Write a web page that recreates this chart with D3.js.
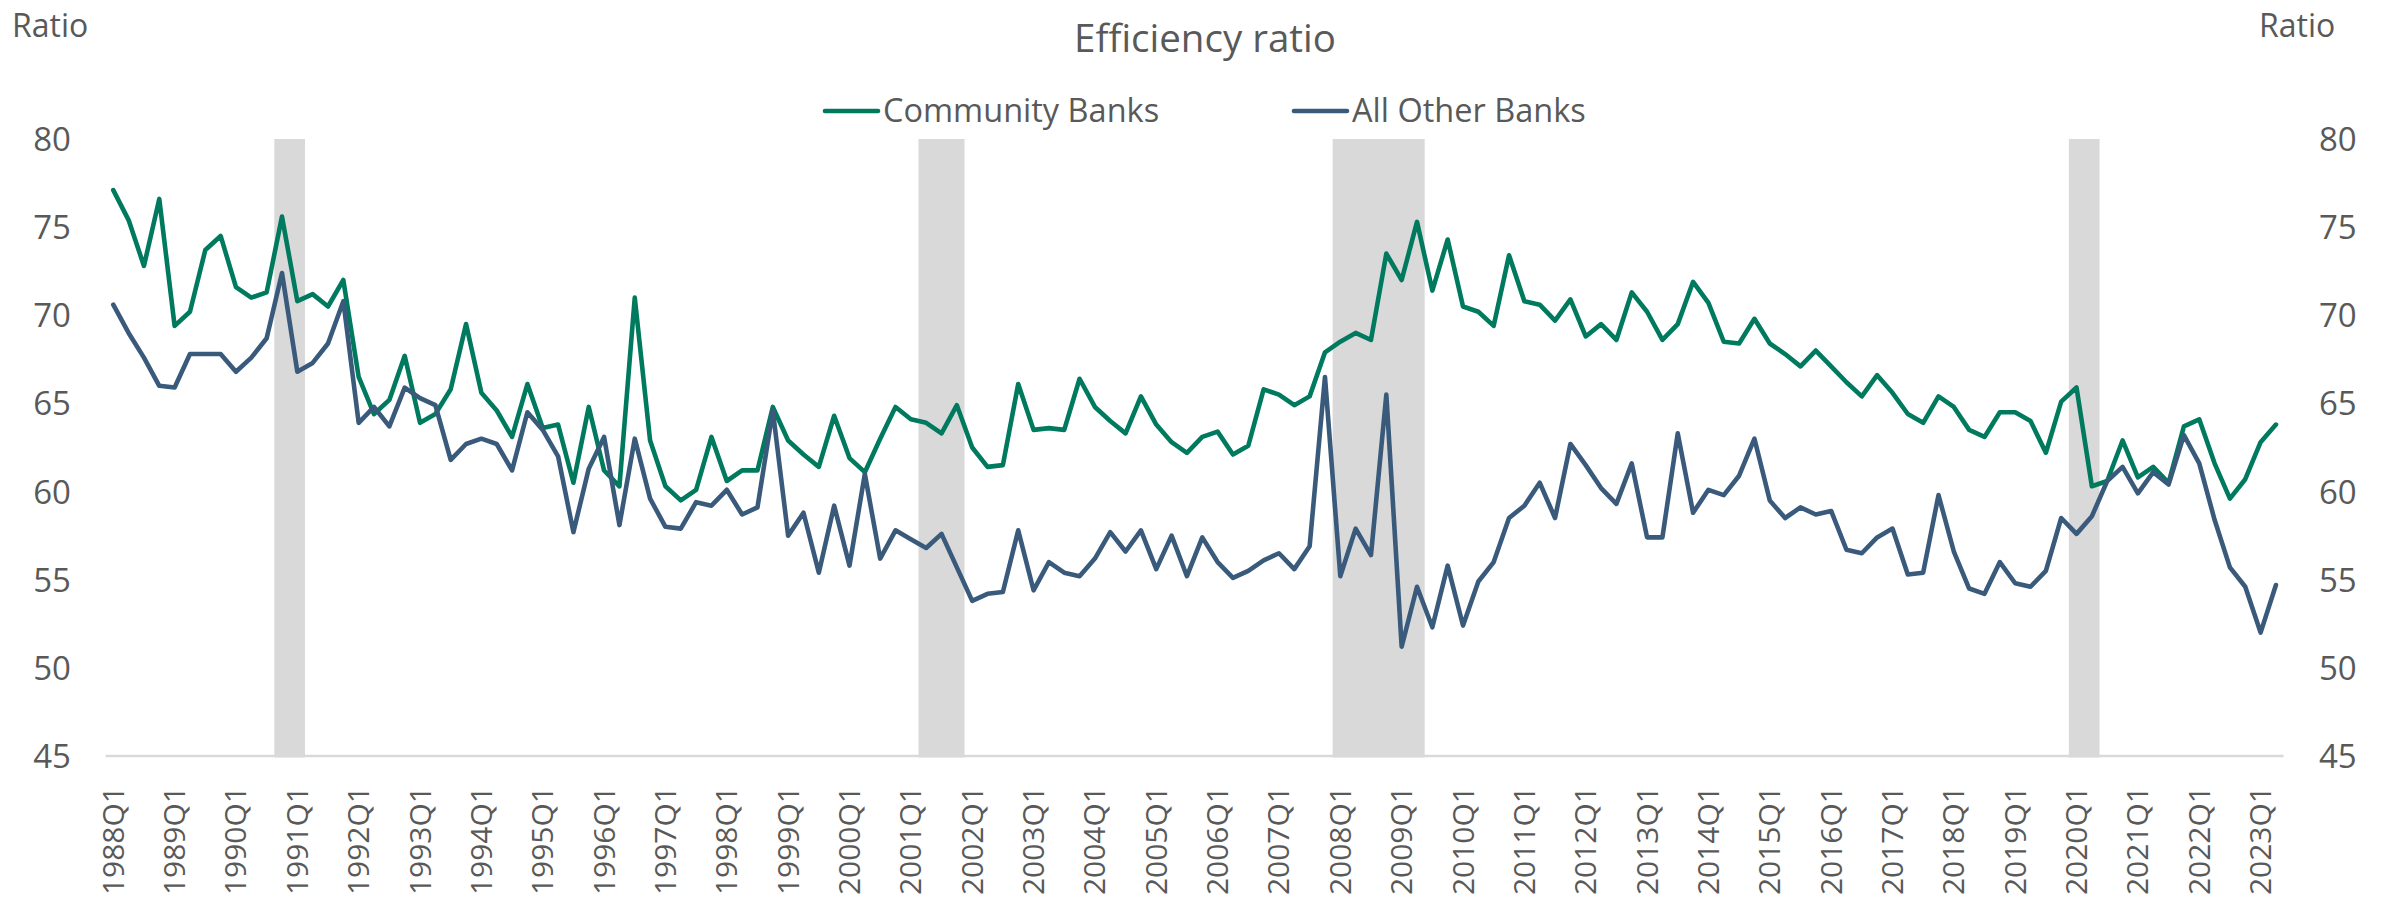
<!DOCTYPE html>
<html>
<head>
<meta charset="utf-8">
<script src="https://cdn.jsdelivr.net/npm/d3@7/dist/d3.min.js"></script>
<style>
  html, body { margin: 0; padding: 0; background: #ffffff; }
  svg { display: block; }
  text { font-family: "Open Sans", "Noto Sans", sans-serif; fill: #595959; }
</style>
</head>
<body>
<svg id="chart" width="2382" height="902"></svg>
<script>
// Quarterly periods, 1988Q1 through 2023Q2
const firstYear = 1988;
const periodCount = 142;
const quarters = Array.from({ length: periodCount }, (_, i) =>
  `${firstYear + Math.floor(i / 4)}Q${(i % 4) + 1}`);

// Efficiency ratio, community banks
const communityBanks = [
  77.1, 75.4, 72.8, 76.6, 69.4, 70.2, 73.7, 74.5, 71.6, 71.0, 71.3, 75.6,
  70.8, 71.2, 70.5, 72.0, 66.5, 64.4, 65.2, 67.7, 63.9, 64.4, 65.8, 69.5,
  65.6, 64.6, 63.1, 66.1, 63.6, 63.8, 60.5, 64.8, 61.2, 60.3, 71.0, 62.9,
  60.3, 59.5, 60.1, 63.1, 60.6, 61.2, 61.2, 64.8, 62.9, 62.1, 61.4, 64.3,
  61.9, 61.1, 63.0, 64.8, 64.1, 63.9, 63.3, 64.9, 62.5, 61.4, 61.5, 66.1,
  63.5, 63.6, 63.5, 66.4, 64.8, 64.0, 63.3, 65.4, 63.8, 62.8, 62.2, 63.1,
  63.4, 62.1, 62.6, 65.8, 65.5, 64.9, 65.4, 67.9, 68.5, 69.0, 68.6, 73.5,
  72.0, 75.3, 71.4, 74.3, 70.5, 70.2, 69.4, 73.4, 70.8, 70.6, 69.7, 70.9,
  68.8, 69.5, 68.6, 71.3, 70.2, 68.6, 69.5, 71.9, 70.7, 68.5, 68.4, 69.8,
  68.4, 67.8, 67.1, 68.0, 67.1, 66.2, 65.4, 66.6, 65.6, 64.4, 63.9, 65.4,
  64.8, 63.5, 63.1, 64.5, 64.5, 64.0, 62.2, 65.1, 65.9, 60.3, 60.6, 62.9,
  60.8, 61.4, 60.5, 63.7, 64.1, 61.6, 59.6, 60.7, 62.8, 63.8
];

// Efficiency ratio, all other banks
const allOtherBanks = [
  70.6, 69.0, 67.6, 66.0, 65.9, 67.8, 67.8, 67.8, 66.8, 67.6, 68.7, 72.4,
  66.8, 67.3, 68.4, 70.8, 63.9, 64.8, 63.7, 65.9, 65.3, 64.9, 61.8, 62.7,
  63.0, 62.7, 61.2, 64.5, 63.5, 62.0, 57.7, 61.3, 63.1, 58.1, 63.0, 59.6,
  58.0, 57.9, 59.4, 59.2, 60.1, 58.7, 59.1, 64.6, 57.5, 58.8, 55.4, 59.2,
  55.8, 61.0, 56.2, 57.8, 57.3, 56.8, 57.6, 55.7, 53.8, 54.2, 54.3, 57.8,
  54.4, 56.0, 55.4, 55.2, 56.2, 57.7, 56.6, 57.8, 55.6, 57.5, 55.2, 57.4,
  56.0, 55.1, 55.5, 56.1, 56.5, 55.6, 56.9, 66.5, 55.2, 57.9, 56.4, 65.5,
  51.2, 54.6, 52.3, 55.8, 52.4, 54.9, 56.0, 58.5, 59.2, 60.5, 58.5, 62.7,
  61.5, 60.2, 59.3, 61.6, 57.4, 57.4, 63.3, 58.8, 60.1, 59.8, 60.9, 63.0,
  59.5, 58.5, 59.1, 58.7, 58.9, 56.7, 56.5, 57.4, 57.9, 55.3, 55.4, 59.8,
  56.6, 54.5, 54.2, 56.0, 54.8, 54.6, 55.5, 58.5, 57.6, 58.6, 60.6, 61.4,
  59.9, 61.1, 60.4, 63.2, 61.6, 58.4, 55.7, 54.6, 52.0, 54.7
];

// Recession periods (first and last quarter shaded)
const recessionStarts = ["1990Q4", "2001Q2", "2008Q1", "2020Q1"];
const recessionEnds   = ["1991Q1", "2001Q4", "2009Q2", "2020Q2"];

// Axis ticks
const yTicks = [45, 50, 55, 60, 65, 70, 75, 80];
const xTickLabels = quarters.filter(q => q.endsWith("Q1"));

const seriesNames = ["Community Banks", "All Other Banks"];
const seriesColors = ["#007A5E", "#3A5A7C"];

const svg = d3.select("#chart");

const plot = { left: 105.6, right: 2283.6, top: 139, bottom: 756 };

const x = d3.scaleBand()
  .domain(quarters)
  .range([plot.left, plot.right])
  .paddingInner(0)
  .paddingOuter(0);
const bw = x.bandwidth();
const xc = q => x(q) + bw / 2;

const y = d3.scaleLinear()
  .domain([45, 80])
  .range([plot.bottom, plot.top]);

// Baseline
svg.append("line")
  .attr("x1", plot.left).attr("x2", plot.right)
  .attr("y1", y(45)).attr("y2", y(45))
  .attr("stroke", "#d9d9d9")
  .attr("stroke-width", 2.5);

// Recession shading
const recessions = recessionStarts.map((s, i) => ({ start: s, end: recessionEnds[i] }));
svg.append("g").selectAll("rect")
  .data(recessions)
  .join("rect")
  .attr("x", d => x(d.start))
  .attr("width", d => x(d.end) + bw - x(d.start))
  .attr("y", y(80))
  .attr("height", y(45) - y(80) + 1.5)
  .attr("fill", "#d9d9d9");

// Left and right value axes
const leftAxis = d3.axisLeft(y).tickValues(yTicks).tickSize(0).tickPadding(0);
const rightAxis = d3.axisRight(y).tickValues(yTicks).tickSize(0).tickPadding(0);

const gl = svg.append("g").attr("transform", "translate(71,0)").call(leftAxis);
const gr = svg.append("g").attr("transform", "translate(2319,0)").call(rightAxis);
[gl, gr].forEach(g => {
  g.select(".domain").remove();
  g.selectAll("text")
    .style("font-family", '"Open Sans", sans-serif')
    .style("font-size", "33px")
    .style("fill", "#595959")
    .attr("dy", "0.35em");
});

// Category axis with rotated quarter labels
const bottomAxis = d3.axisBottom(x).tickValues(xTickLabels).tickSize(0).tickPadding(0);
const gb = svg.append("g").attr("transform", "translate(0,786)").call(bottomAxis);
gb.select(".domain").remove();
gb.selectAll("text")
  .style("font-family", '"Open Sans", sans-serif')
  .style("font-size", "30px")
  .style("fill", "#595959")
  .attr("transform", "rotate(-90)")
  .attr("x", 0)
  .attr("y", 0)
  .attr("dx", 0)
  .attr("dy", "0.35em")
  .attr("text-anchor", "end");

// Series lines
const line = d3.line()
  .x((d, i) => xc(quarters[i]))
  .y(d => y(d));

[communityBanks, allOtherBanks].forEach((values, k) => {
  svg.append("path")
    .datum(values)
    .attr("d", line)
    .attr("fill", "none")
    .attr("stroke", seriesColors[k])
    .attr("stroke-width", 4.6)
    .attr("stroke-linejoin", "round")
    .attr("stroke-linecap", "round");
});

// Title and axis captions
svg.append("text")
  .attr("x", 1205).attr("y", 52)
  .attr("text-anchor", "middle")
  .style("font-size", "38.5px")
  .text("Efficiency ratio");

svg.append("text")
  .attr("x", 12).attr("y", 37)
  .style("font-size", "32px")
  .text("Ratio");

svg.append("text")
  .attr("x", 2259).attr("y", 37)
  .style("font-size", "32px")
  .text("Ratio");

// Legend
const legendItems = [
  { name: seriesNames[0], color: seriesColors[0], x: 825 },
  { name: seriesNames[1], color: seriesColors[1], x: 1294 }
];
const lg = svg.append("g").selectAll("g")
  .data(legendItems)
  .join("g")
  .attr("transform", d => `translate(${d.x},111)`);
lg.append("line")
  .attr("x1", 0).attr("x2", 53)
  .attr("y1", 0).attr("y2", 0)
  .attr("stroke", d => d.color)
  .attr("stroke-width", 4.6)
  .attr("stroke-linecap", "round");
lg.append("text")
  .attr("x", 58).attr("y", 0)
  .attr("dy", "0.35em")
  .style("font-size", "32.5px")
  .text(d => d.name);
</script>
</body>
</html>
